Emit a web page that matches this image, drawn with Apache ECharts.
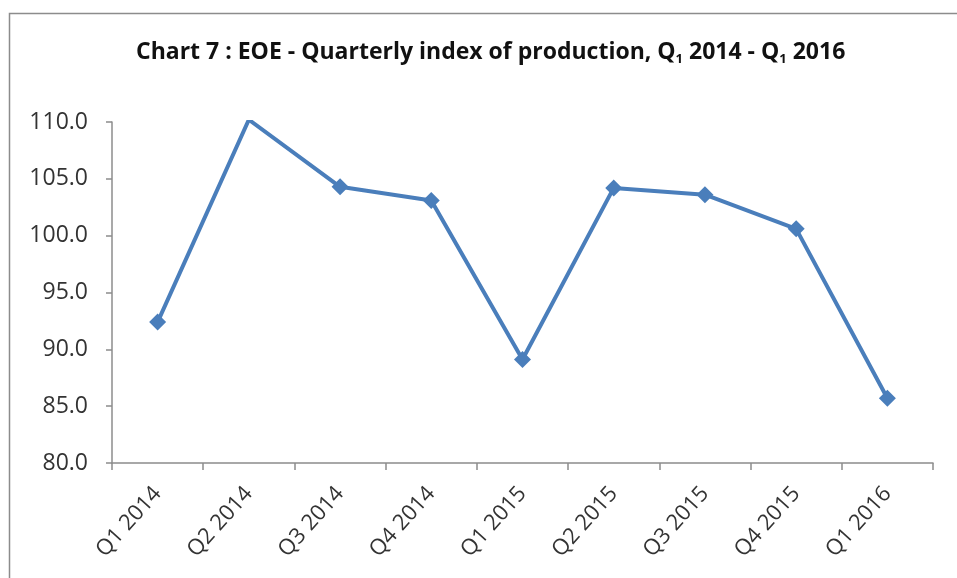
<!DOCTYPE html>
<html>
<head>
<meta charset="utf-8">
<script src="https://cdn.jsdelivr.net/npm/echarts@6/dist/echarts.min.js"></script>
<style>
  html, body { margin: 0; padding: 0; background: #ffffff; }
  #chart { width: 957px; height: 578px; }
</style>
</head>
<body>
<div id="chart"></div>
<script>
// Quarterly index of production for EOE
const quarters = ['Q1 2014', 'Q2 2014', 'Q3 2014', 'Q4 2014', 'Q1 2015', 'Q2 2015', 'Q3 2015', 'Q4 2015', 'Q1 2016'];
const indexValues = [92.4, 110.2, 104.3, 103.1, 89.1, 104.2, 103.6, 100.6, 85.7];
const yMin = 80, yMax = 110, yStep = 5;

const chart = echarts.init(document.getElementById('chart'), null, { renderer: 'canvas' });

chart.setOption({
  backgroundColor: '#ffffff',
  animation: false,
  graphic: [{
    type: 'rect',
    shape: { x: 9.5, y: 13.5, width: 1000, height: 1000 },
    style: { fill: 'none', stroke: '#8c8c8c', lineWidth: 1.5 },
    silent: true
  }],
  title: {
    text: '{t|Chart 7 : EOE - Quarterly index of production, Q}{s|1}{t| 2014 - Q}{s|1}{t| 2016}',
    left: 131,
    top: 34,
    textStyle: {
      rich: {
        t: { fontFamily: 'Open Sans', fontWeight: 'bold', fontSize: 23, color: '#111', letterSpacing: -0.8 },
        s: { fontFamily: 'Open Sans', fontWeight: 'bold', fontSize: 13, color: '#111', padding: [14, 0, 0, 0] }
      }
    }
  },
  grid: { left: 112, right: 24, top: 122, bottom: 115, containLabel: false },
  xAxis: {
    type: 'category',
    data: quarters,
    boundaryGap: true,
    axisLine: { lineStyle: { color: '#8c8c8c', width: 1.5 } },
    axisTick: { show: true, alignWithLabel: false, length: 7, lineStyle: { color: '#8c8c8c', width: 1.5 } },
    axisLabel: {
      rotate: 48,
      interval: 0,
      margin: 27,
      fontFamily: 'Open Sans',
      fontSize: 22,
      color: '#333333'
    },
    splitLine: { show: false }
  },
  yAxis: {
    type: 'value',
    min: yMin,
    max: yMax,
    interval: yStep,
    axisLine: { show: true, lineStyle: { color: '#8c8c8c', width: 1.5 } },
    axisTick: { show: true, inside: false, length: 6, lineStyle: { color: '#8c8c8c', width: 1.5 } },
    axisLabel: {
      margin: 24,
      fontFamily: 'Open Sans',
      fontSize: 23,
      color: '#333333',
      formatter: v => v.toFixed(1)
    },
    splitLine: { show: false }
  },
  series: [{
    type: 'line',
    data: indexValues,
    symbol: 'diamond',
    symbolSize: 17,
    lineStyle: { color: '#4a7ebb', width: 4 },
    itemStyle: { color: '#4a7ebb' },
    z: 3
  }]
});
</script>
</body>
</html>
